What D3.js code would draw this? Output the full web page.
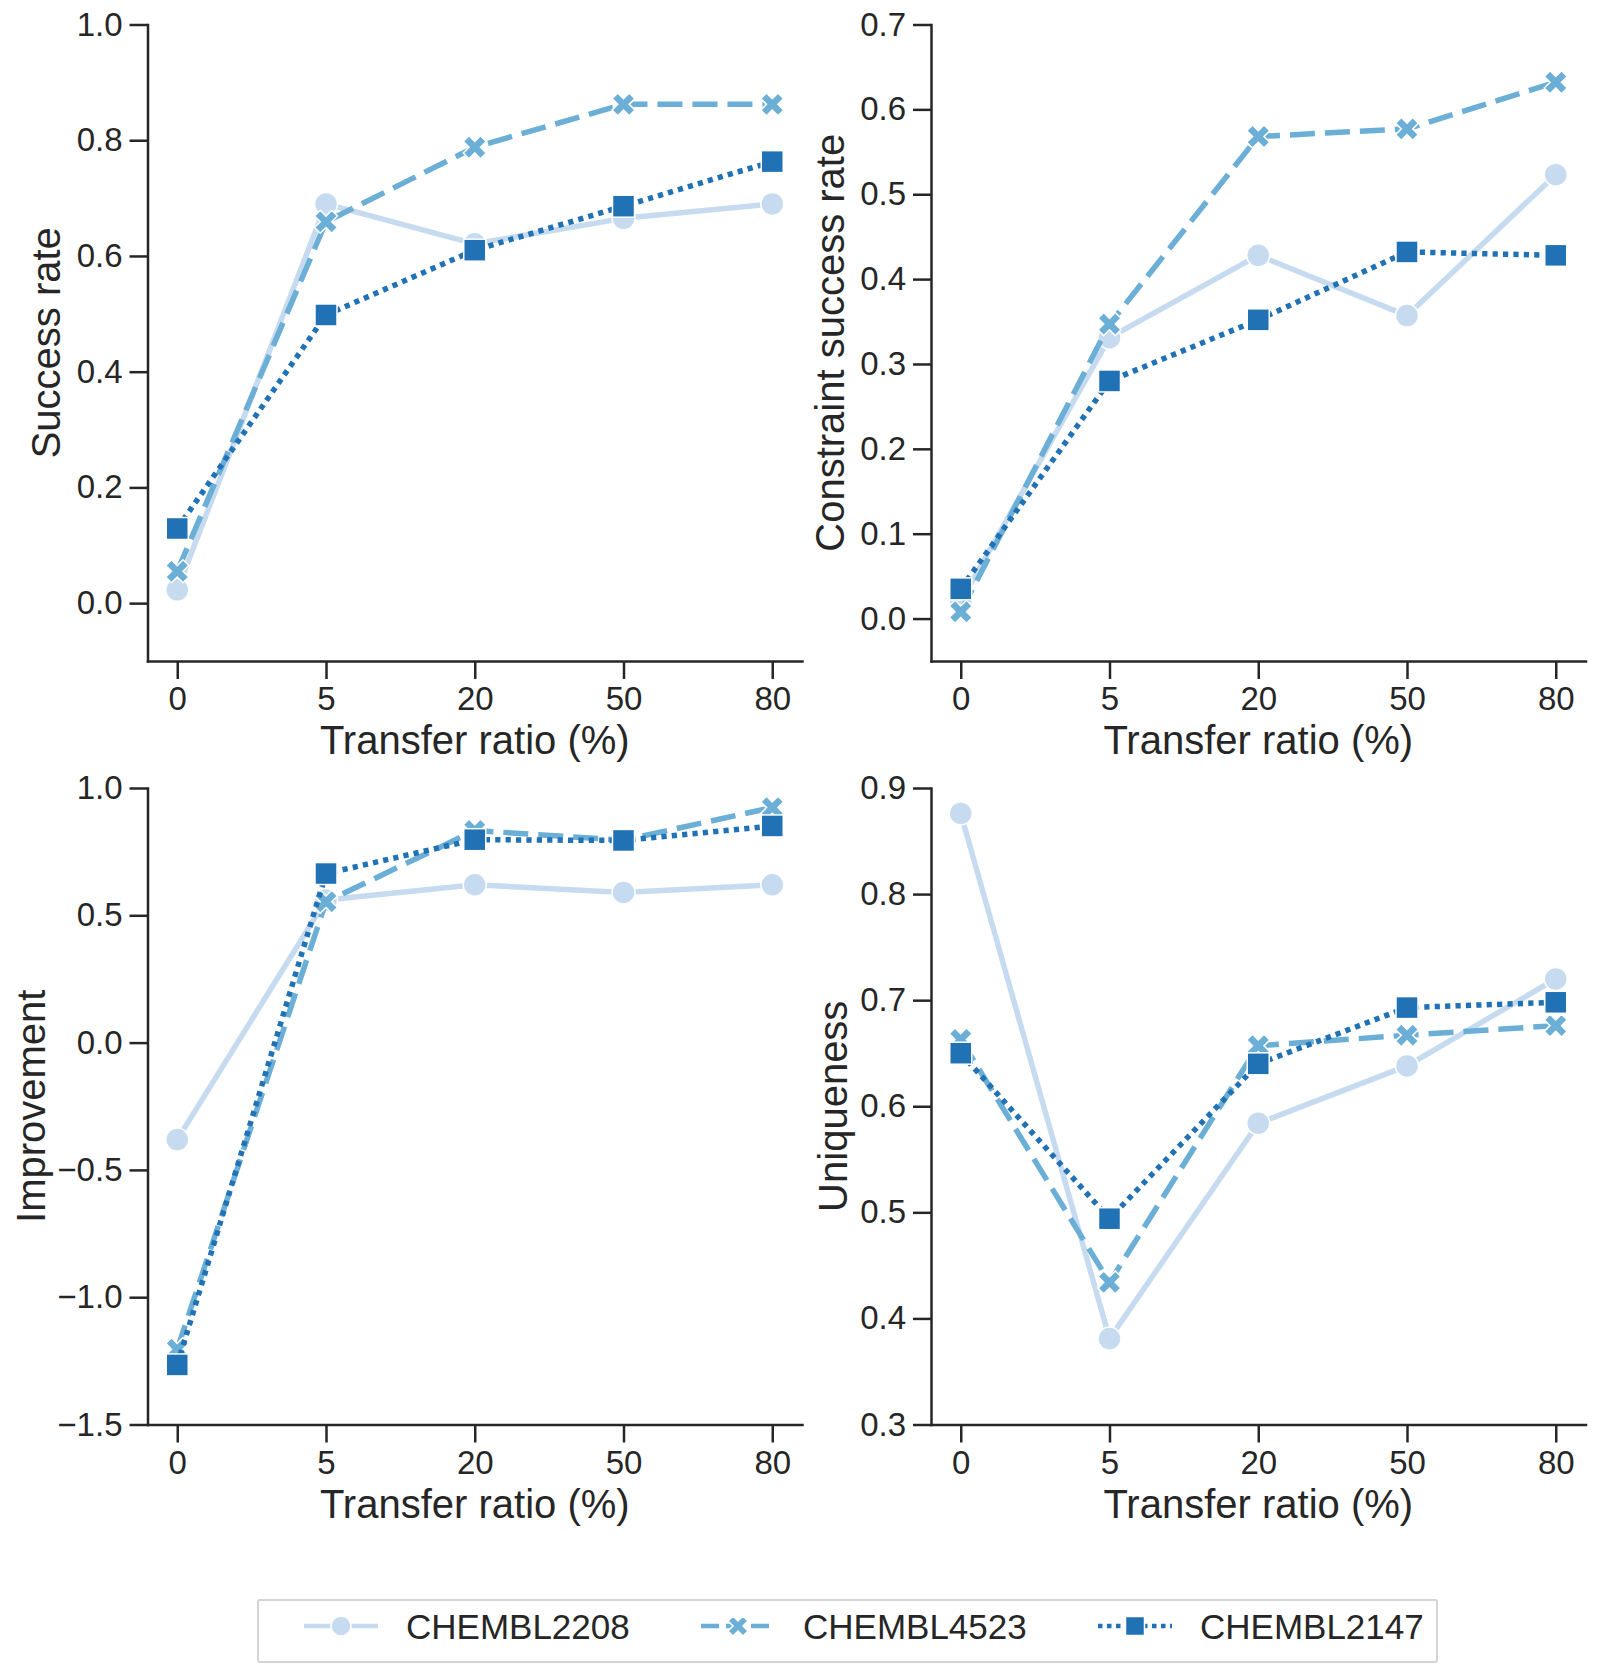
<!DOCTYPE html>
<html><head><meta charset="utf-8">
<script src="https://cdn.jsdelivr.net/npm/d3@7"></script>
<style>
body{margin:0;background:#fff}
svg{display:block}
text{font-family:"Liberation Sans",Arial,Helvetica,sans-serif;fill:#262626}
</style>
</head><body>
<svg id="chart" width="1597" height="1672"></svg>
<script>
// ---------- data ----------
const categories = ["0", "5", "20", "50", "80"];
const seriesNames = ["CHEMBL2208", "CHEMBL4523", "CHEMBL2147"];
const seriesColors = ["#c6dbef", "#6baed6", "#2171b5"];

const successRate = [
  [0.023, 0.690, 0.621, 0.665, 0.690],
  [0.055, 0.659, 0.788, 0.862, 0.862],
  [0.129, 0.498, 0.610, 0.686, 0.763]
];
const constraintSuccessRate = [
  [0.020, 0.331, 0.428, 0.357, 0.523],
  [0.008, 0.347, 0.568, 0.577, 0.632],
  [0.035, 0.280, 0.352, 0.432, 0.428]
];
const improvement = [
  [-0.381, 0.560, 0.620, 0.590, 0.620],
  [-1.204, 0.553, 0.833, 0.795, 0.923],
  [-1.266, 0.664, 0.797, 0.794, 0.851]
];
const uniqueness = [
  [0.876, 0.381, 0.584, 0.638, 0.720],
  [0.663, 0.434, 0.657, 0.667, 0.676],
  [0.650, 0.494, 0.640, 0.693, 0.698]
];

const yTicksSuccess = [0.0, 0.2, 0.4, 0.6, 0.8, 1.0];
const yTicksConstraint = [0.0, 0.1, 0.2, 0.3, 0.4, 0.5, 0.6, 0.7];
const yTicksImprovement = [-1.5, -1.0, -0.5, 0.0, 0.5, 1.0];
const yTicksUniqueness = [0.3, 0.4, 0.5, 0.6, 0.7, 0.8, 0.9];

const xLabel = "Transfer ratio (%)";

// ---------- layout ----------
const svg = d3.select("#chart");
const panelW = 654.5, panelH = 636.5;
const panels = [
  {data: successRate, yLabel: "Success rate", domain: [-0.1, 1.0], ticks: yTicksSuccess, left: 147.5, top: 24.5, labOff: 102},
  {data: constraintSuccessRate, yLabel: "Constraint success rate", domain: [-0.05, 0.7], ticks: yTicksConstraint, left: 931, top: 24.5, labOff: 101},
  {data: improvement, yLabel: "Improvement", domain: [-1.5, 1.0], ticks: yTicksImprovement, left: 147.5, top: 788, labOff: 117},
  {data: uniqueness, yLabel: "Uniqueness", domain: [0.3, 0.9], ticks: yTicksUniqueness, left: 931, top: 788, labOff: 98}
];

const lineW = 5.5;
const dashes = [null, "25,10", "5.2,5.2"];
const markerSize = 23;

function drawMarker(g, k, x, y, size, color) {
  if (k === 0) {
    g.append("circle").attr("cx", x).attr("cy", y).attr("r", size / 2)
      .attr("fill", color).attr("stroke", "#fff").attr("stroke-width", 1.5);
  } else if (k === 1) {
    const s = size * 1.06;
    const area = 5 * (s / 3) * (s / 3);
    g.append("path").attr("d", d3.symbol(d3.symbolCross, area)())
      .attr("transform", `translate(${x},${y}) rotate(45)`)
      .attr("fill", color).attr("stroke", "#fff").attr("stroke-width", 1.5);
  } else {
    const s = size - 1;
    g.append("rect").attr("x", x - s / 2).attr("y", y - s / 2).attr("width", s).attr("height", s)
      .attr("fill", color).attr("stroke", "#fff").attr("stroke-width", 1.5);
  }
}

const fmt = d3.format(".1f");

panels.forEach(p => {
  const g = svg.append("g").attr("transform", `translate(${p.left},${p.top})`);
  const x = d3.scaleLinear().domain([-0.2, categories.length - 1 + 0.2]).range([0, panelW]);
  const y = d3.scaleLinear().domain(p.domain).range([panelH, 0]);

  // axes
  const xAxis = d3.axisBottom(x).tickValues(d3.range(categories.length))
    .tickFormat(i => categories[i]).tickSize(18).tickPadding(8).tickSizeOuter(0);
  const yAxis = d3.axisLeft(y).tickValues(p.ticks).tickFormat(fmt)
    .tickSize(18).tickPadding(7).tickSizeOuter(0);

  const gx = g.append("g").attr("transform", `translate(0,${panelH})`).call(xAxis);
  const gy = g.append("g").call(yAxis);
  [gx, gy].forEach(a => {
    a.select(".domain").attr("stroke", "#262626").attr("stroke-width", 2.5).attr("stroke-linecap", "square");
    a.selectAll(".tick line").attr("stroke", "#262626").attr("stroke-width", 2.5);
    a.selectAll(".tick text").style("font-size", "33px").attr("fill", "#262626")
      .style("font-family", '"Liberation Sans",Arial,sans-serif');
  });

  // axis titles
  g.append("text").attr("x", panelW / 2).attr("y", panelH + 93)
    .attr("text-anchor", "middle").style("font-size", "40px").text(xLabel);
  g.append("text").attr("transform", `translate(${-p.labOff},${panelH / 2}) rotate(-90)`)
    .attr("text-anchor", "middle").attr("dy", "0.36em").style("font-size", "40px").text(p.yLabel);

  // series
  p.data.forEach((vals, k) => {
    const sg = g.append("g");
    const line = d3.line().x((d, i) => x(i)).y(d => y(d));
    sg.append("path").attr("d", line(vals)).attr("fill", "none")
      .attr("stroke", seriesColors[k]).attr("stroke-width", lineW)
      .attr("stroke-dasharray", dashes[k]).attr("stroke-linejoin", "round")
      .attr("stroke-linecap", k === 0 ? "round" : "butt");
    vals.forEach((v, i) => drawMarker(sg, k, x(i), y(v), markerSize, seriesColors[k]));
  });
});

// ---------- legend ----------
const leg = svg.append("g");
leg.append("rect").attr("x", 258).attr("y", 1600).attr("width", 1179).attr("height", 62)
  .attr("fill", "#fff").attr("stroke", "#d4d4d4").attr("stroke-width", 2).attr("rx", 2);
const legX = d3.scaleLinear().domain([0, 1]).range([304, 701]);
seriesNames.forEach((name, k) => {
  const x0 = legX(k), cy = 1626;
  const lg = leg.append("g");
  lg.append("line").attr("x1", x0).attr("x2", x0 + 74).attr("y1", cy).attr("y2", cy)
    .attr("stroke", seriesColors[k]).attr("stroke-width", 4.5)
    .attr("stroke-dasharray", k === 0 ? null : (k === 1 ? "18,7" : "4.5,4.5"));
  drawMarker(lg, k, x0 + 37, cy, 20, seriesColors[k]);
  lg.append("text").attr("x", x0 + 102).attr("y", cy).attr("dy", "0.36em")
    .style("font-size", "35px").text(name);
});
</script>
</body></html>
